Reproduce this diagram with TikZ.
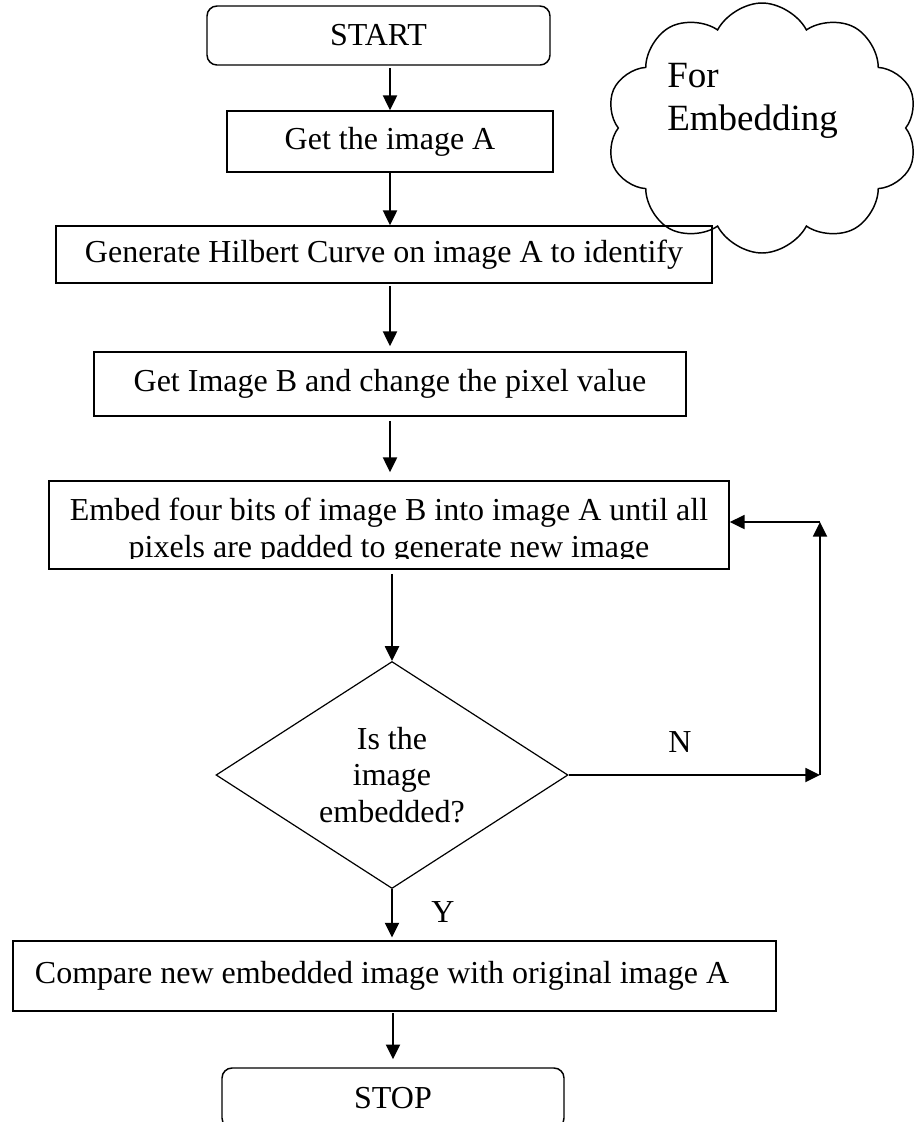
\documentclass[tikz,border=0pt]{standalone}
\usepackage{fontspec}
\setmainfont{Liberation Serif}
\usetikzlibrary{shapes.geometric,shapes.symbols,arrows.meta}
\newcommand\boxfont{\fontsize{24}{27.75}\selectfont}
\begin{document}
\begin{tikzpicture}[x=0.75pt,y=-0.75pt,
  box/.style={draw, line width=1.3pt, inner sep=0pt, font=\boxfont, align=center},
  term/.style={box, rounded corners=7.5pt, line width=1.1pt},
  arr/.style={line width=1.4pt, -{Triangle[length=11pt,width=10.5pt]}},
  lbl/.style={inner sep=0pt, font=\boxfont}
]
\clip (0,0) rectangle (920,1122);
\fill[white] (0,0) rectangle (920,1122);

\node[term, minimum width=257.25pt, minimum height=44.25pt] (start) at (378.5,35.5) {START};
\node[box, minimum width=244.5pt, minimum height=45.75pt] (geta) at (390,141.5) {Get the image A};
\node[box, minimum width=492pt, minimum height=42.75pt] (gen) at (384,254.5) {Generate Hilbert Curve on image A to identify};
\node[box, minimum width=444pt, minimum height=48pt] (getb) at (390,384) {Get Image B and change the pixel value};
\node[box, minimum width=510pt, minimum height=66pt,
  path picture={
   \clip (path picture bounding box.north west) rectangle ([yshift=8.25pt]path picture bounding box.south east);
   \node[inner sep=0pt, font=\boxfont, align=center] at ([yshift=-4.5pt]path picture bounding box.center)
   {Embed four bits of image B into image A until all\\pixels are padded to generate new image};}] (emb) at (389,525) {};
\node[draw, diamond, aspect=1.55, minimum width=264pt, minimum height=170.25pt, inner sep=0pt,
  line width=0.9pt, font=\fontsize{24}{27.4}\selectfont, align=center] (dia) at (392,775) {Is the\\image\\embedded?};
\node[box, text width=539.25pt, inner xsep=16.5pt, minimum height=52.5pt, align=flush left] (cmp) at (394.5,976)
  {Compare new embedded image with original image A};
\node[term, minimum width=256.5pt, minimum height=45pt] (stop) at (393,1098) {STOP};

\node[cloud, draw, cloud puffs=10, cloud puff arc=125, minimum width=234pt, minimum height=187.5pt,
  line width=1.1pt, inner sep=0pt] (cloud) at (762,128) {};
\node[anchor=west, inner sep=0pt, align=left, font=\fontsize{27.75}{32.25}\selectfont] (ctext) at (667,100.5) {For\\Embedding};

\draw[arr, shorten <=2pt] (start.south -| geta.north) -- (geta.north);
\draw[arr] (geta.south) -- (geta.south |- gen.north);
\draw[arr, shorten <=1.5pt, shorten >=3.75pt] (gen.south -| getb.north) -- (getb.north);
\draw[arr, shorten <=3pt, shorten >=6pt] (getb.south) -- (getb.south |- emb.north);
\draw[arr, shorten <=3pt] (emb.south -| dia.north) -- (dia.north);
\draw[arr, shorten >=2pt] (dia.south) -- (dia.south |- cmp.north);
\draw[arr, shorten <=1pt, shorten >=6pt] (cmp.south -| stop.north) -- (stop.north);

\coordinate (c1) at (820,775);
\coordinate (c2) at (820,522);
\draw[arr] (dia.east) -- (c1);
\draw[arr] (c1) -- (c2);
\draw[arr] (c2) -- (c2 -| emb.east);

\node[lbl] (nlab) at (680,742) {N};
\node[lbl] (ylab) at (443,912.5) {Y};
\end{tikzpicture}
\end{document}
